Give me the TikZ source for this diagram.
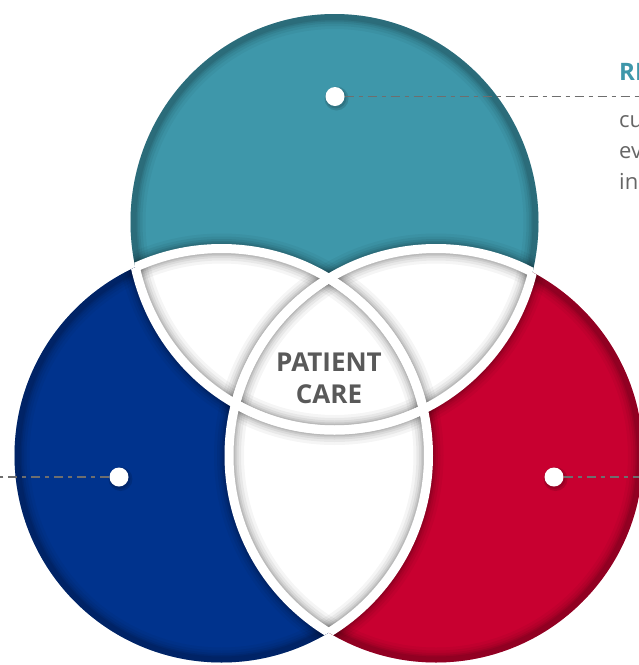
\documentclass[tikz,border=0pt]{standalone}
\usepackage{fontspec}
\setmainfont{Open Sans}
\definecolor{tealc}{HTML}{3E97AA}
\definecolor{bluec}{HTML}{00338D}
\definecolor{redc}{HTML}{C80030}
\definecolor{txtgray}{HTML}{595959}
\definecolor{bodygray}{HTML}{666666}
\definecolor{leadergray}{HTML}{6E6E6E}
\newcommand\ringshade[3]{%
  \foreach \w/\o in {30/0.04,24/0.05,19/0.06,15/0.07,12/0.08}{%
    \draw[black, opacity=\o, line width=\w pt] (#1) ellipse[x radius=#2, y radius=#3];}}
\newcommand\outside[3]{%
  \clip (#1) ellipse[x radius=#2, y radius=#3] (-60,-60) -- (-60,730) -- (700,730) -- (700,-60) -- cycle;}
\begin{document}
\begin{tikzpicture}[x=1pt,y=-1pt,
  dotnode/.style={circle, fill=white, inner sep=0pt, minimum size=19pt},
  dotshadow/.style={fill=black, opacity=0.12},
  leader/.style={draw=leadergray, line width=1.4pt, dash pattern=on 9pt off 5pt on 4pt off 5pt},
  gap/.style={draw=white, line width=9pt},
  centertext/.style={align=center, text=txtgray, font=\bfseries\fontsize{26}{32}\selectfont},
  headtext/.style={anchor=base west, inner sep=0pt, text=tealc, font=\bfseries\fontsize{24}{28}\selectfont},
  bodytext/.style={anchor=base west, inner sep=0pt, text=bodygray, font=\fontsize{22}{26}\selectfont}]
\clip (0,0) rectangle (639,665);
\fill[white] (0,0) rectangle (639,665);
\coordinate (T) at (334.5,222);
\coordinate (L) at (221.5,455.5);
\coordinate (R) at (436,455.5);
% coloured circles
\fill[tealc] (T) ellipse[x radius=204, y radius=208];
\fill[bluec] (L) ellipse[x radius=207, y radius=207];
\fill[redc] (R) ellipse[x radius=207, y radius=207];
% white overlaps
\begin{scope}
  \clip (T) ellipse[x radius=204, y radius=208];
  \fill[white] (L) ellipse[x radius=207, y radius=207];
  \fill[white] (R) ellipse[x radius=207, y radius=207];
\end{scope}
\begin{scope}
  \clip (L) ellipse[x radius=207, y radius=207];
  \fill[white] (R) ellipse[x radius=207, y radius=207];
\end{scope}
% shadows along each circle boundary
\foreach \X/\xa/\xb/\Y/\ya/\yb/\Z/\za/\zb in
  {T/204/208/L/207/207/R/207/207, L/207/207/T/204/208/R/207/207, R/207/207/T/204/208/L/207/207}{
  \begin{scope}
    \clip (\X) ellipse[x radius=\xa, y radius=\xb];
    \ringshade{\X}{\xa}{\xb}
  \end{scope}
  \begin{scope}
    \clip (\Y) ellipse[x radius=\ya, y radius=\yb];
    \outside{\X}{\xa}{\xb}
    \ringshade{\X}{\xa}{\xb}
  \end{scope}
  \begin{scope}
    \clip (\Z) ellipse[x radius=\za, y radius=\zb];
    \outside{\X}{\xa}{\xb}
    \outside{\Y}{\ya}{\yb}
    \ringshade{\X}{\xa}{\xb}
  \end{scope}
}
% white gaps
\foreach \X/\xa/\xb/\Y/\ya/\yb/\Z/\za/\zb in
  {T/204/208/L/207/207/R/207/207, L/207/207/T/204/208/R/207/207, R/207/207/T/204/208/L/207/207}{
  \begin{scope}
    \clip (\Y) ellipse[x radius=\ya, y radius=\yb];
    \draw[gap] (\X) ellipse[x radius=\xa, y radius=\xb];
  \end{scope}
  \begin{scope}
    \clip (\Z) ellipse[x radius=\za, y radius=\zb];
    \draw[gap] (\X) ellipse[x radius=\xa, y radius=\xb];
  \end{scope}
}
% centre label
\node[centertext] (pc) at (329,378) {PATIENT\\CARE};
% dots with shadows
\foreach \p in {(335,96.5),(119,477),(554,477)}{
  \fill[dotshadow] \p ++(1.5,2) circle[radius=12];
  \fill[dotshadow] \p ++(1,1.5) circle[radius=10.5];
}
\node[dotnode] (tdot) at (335,96.5) {};
\node[dotnode] (bdot) at (119,477) {};
\node[dotnode] (rdot) at (554,477) {};
\coordinate (tend) at (639,96.5);
\coordinate (bend) at (0,477);
\coordinate (rend) at (639,477);
\draw[leader] (tdot.east) -- (tend);
\draw[leader] (bdot.west) -- (bend);
\draw[leader] (rdot.east) -- (rend);
% right-hand text (cut by the picture edge, as in the reference)
\node[headtext] (head) at (619,80) {RE};
\node[bodytext] (l1) at (619,127) {cu};
\node[bodytext] (l2) at (619,158) {ev};
\node[bodytext] (l3) at (619,189) {in};
\end{tikzpicture}
\end{document}
